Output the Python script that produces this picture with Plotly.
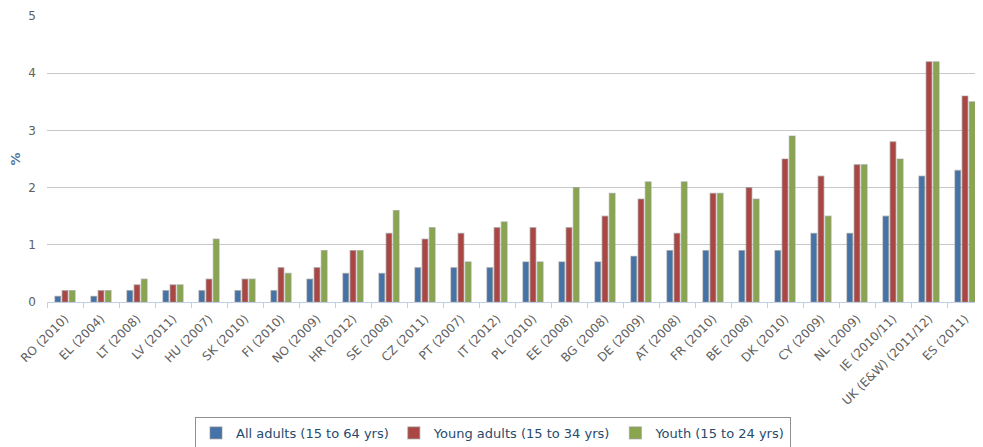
import plotly.graph_objects as go

# ── Data ──────────────────────────────────────────────────────────────
countries = ["RO (2010)", "EL (2004)", "LT (2008)", "LV (2011)", "HU (2007)",
             "SK (2010)", "FI (2010)", "NO (2009)", "HR (2012)", "SE (2008)",
             "CZ (2011)", "PT (2007)", "IT (2012)", "PL (2010)", "EE (2008)",
             "BG (2008)", "DE (2009)", "AT (2008)", "FR (2010)", "BE (2008)",
             "DK (2010)", "CY (2009)", "NL (2009)", "IE (2010/11)",
             "UK (E&W) (2011/12)", "ES (2011)"]

all_adults = [0.1, 0.1, 0.2, 0.2, 0.2, 0.2, 0.2, 0.4, 0.5, 0.5,
              0.6, 0.6, 0.6, 0.7, 0.7, 0.7, 0.8, 0.9, 0.9, 0.9,
              0.9, 1.2, 1.2, 1.5, 2.2, 2.3]
young_adults = [0.2, 0.2, 0.3, 0.3, 0.4, 0.4, 0.6, 0.6, 0.9, 1.2,
                1.1, 1.2, 1.3, 1.3, 1.3, 1.5, 1.8, 1.2, 1.9, 2.0,
                2.5, 2.2, 2.4, 2.8, 4.2, 3.6]
youth = [0.2, 0.2, 0.4, 0.3, 1.1, 0.4, 0.5, 0.9, 0.9, 1.6,
         1.3, 0.7, 1.4, 0.7, 2.0, 1.9, 2.1, 2.1, 1.9, 1.8,
         2.9, 1.5, 2.4, 2.5, 4.2, 3.5]

series_names = ["All adults (15 to 64 yrs)", "Young adults (15 to 34 yrs)",
                "Youth (15 to 24 yrs)"]
colors = ["#4572A7", "#AA4643", "#89A54E"]

FONT = "Lucida Grande, Lucida Sans Unicode, Verdana, DejaVu Sans, sans-serif"

fig = go.Figure()
for name, vals, col in zip(series_names, [all_adults, young_adults, youth], colors):
    fig.add_trace(go.Bar(
        x=countries, y=vals, name=name,
        marker=dict(color=col, line=dict(color="rgba(150,150,150,0.55)", width=1.2)),
    ))

# page body has an 8px margin, so margins are 8px smaller than the picture's
fig.update_layout(
    width=975, height=439,
    margin=dict(l=39, r=0, t=8, b=145, autoexpand=False),
    paper_bgcolor="white", plot_bgcolor="white",
    barmode="group", bargap=0.4, bargroupgap=0.2,
    font=dict(family=FONT, size=12, color="#606060"),
    showlegend=True,
    legend=dict(
        orientation="h", x=0.4765, xanchor="center", y=-0.402, yanchor="top",
        bgcolor="white", bordercolor="#909090", borderwidth=1,
        font=dict(size=13, color="#274b6d"),
        traceorder="normal", itemwidth=30,
    ),
    xaxis=dict(
        type="category", range=[-0.5, 25.5],
        showline=True, linecolor="#C0D0E0", linewidth=1,
        ticks="outside", tickson="boundaries", ticklen=5, tickcolor="#C0D0E0",
        tickangle=-45, ticklabelstandoff=4,
        tickfont=dict(size=12, color="#606060"),
        showgrid=False, zeroline=False, automargin=False,
    ),
    yaxis=dict(
        range=[0, 5], dtick=1, tick0=0,
        showgrid=True, gridcolor="#C8C8C8", gridwidth=1,
        zeroline=False, showline=False, automargin=False,
        ticklabelstandoff=10, tickfont=dict(size=12, color="#606060"),
        title=dict(text="%", font=dict(size=13, color="#4d759e", weight="bold"),
                   standoff=5),
    ),
)

fig.write_html("out.html")
